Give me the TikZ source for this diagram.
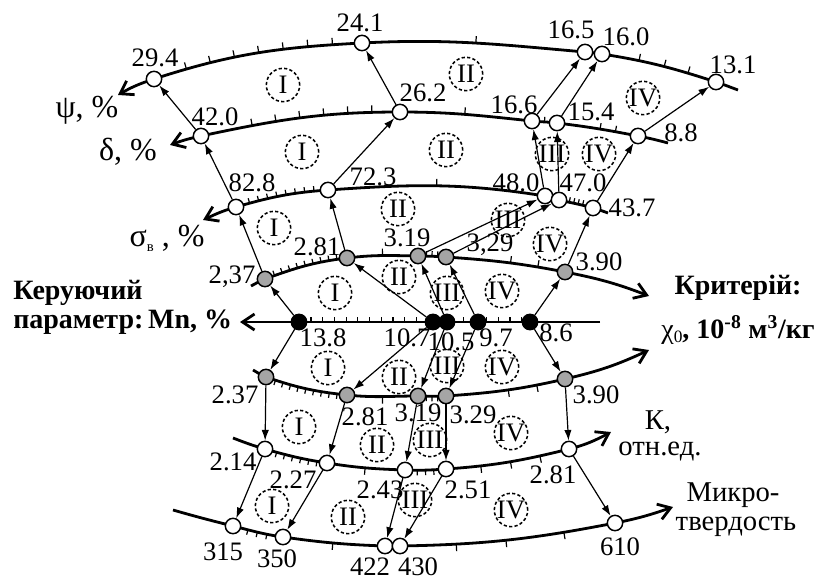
\documentclass[tikz,border=0pt]{standalone}
\usepackage{fontspec}
\setmainfont{Liberation Serif}
\usetikzlibrary{arrows.meta,decorations.markings}
\definecolor{ngray}{RGB}{165,165,165}
\begin{document}
\begin{tikzpicture}[x=0.75pt,y=0.75pt,
  axisln/.style={line width=2.1pt},
  tickln/.style={line width=0.9pt},
  conn/.style={line width=0.9pt,-{Latex[length=8pt,width=5.5pt]}},
  ptbase/.style={circle,draw,line width=1.1pt,minimum size=11.5pt,inner sep=0pt},
  wn/.style={ptbase,fill=white},
  gn/.style={ptbase,fill=ngray},
  bn/.style={ptbase,fill=black},
  zone/.style={circle,draw,dash pattern=on 2.4pt off 1.7pt,line width=1.15pt,minimum size=25pt,inner sep=0pt,font=\fontsize{20}{22}\selectfont},
  num/.style={inner sep=0pt,font=\fontsize{20}{22}\selectfont},
  lab/.style={inner sep=0pt,font=\fontsize{21.5}{24}\selectfont},
  glab/.style={inner sep=0pt,font=\fontsize{24}{26}\selectfont},
  blab/.style={inner sep=0pt,font=\fontsize{21}{24}\selectfont\bfseries},
  mk/.style 2 args={decoration={mark=at position #1 with {\draw[tickln] (0pt,0pt)--(0pt,#2);}}},
  mks/.style n args={4}{decoration={mark=between positions #1 and #2 step #3 with {\draw[tickln] (0pt,0pt)--(0pt,#4);}}},
]
\useasboundingbox (0,0) rectangle (816,-581);
% ---------- coordinates ----------
\coordinate (c1s) at (118,-95);  \coordinate (c1a) at (154,-79);  \coordinate (c1b) at (362,-43);
\coordinate (c1c) at (585,-52);  \coordinate (c1d) at (602,-54);  \coordinate (c1e) at (716,-82);
\coordinate (c1f) at (738,-90);
\coordinate (c2s) at (170,-145); \coordinate (c2a) at (201,-136); \coordinate (c2b) at (400,-112);
\coordinate (c2c) at (532,-121); \coordinate (c2d) at (557,-123); \coordinate (c2e) at (638,-136);
\coordinate (c2f) at (668,-143);
\coordinate (c3s) at (203,-220); \coordinate (c3a) at (236,-207); \coordinate (c3b) at (328,-190);
\coordinate (c3c) at (545,-196); \coordinate (c3d) at (559,-200); \coordinate (c3e) at (593,-208);
\coordinate (c3f) at (608,-213);
\coordinate (c4s) at (251,-286); \coordinate (c4a) at (265,-279); \coordinate (c4b) at (347,-258);
\coordinate (c4c) at (418,-256); \coordinate (c4d) at (446,-257); \coordinate (c4e) at (565,-272);
\coordinate (c4f) at (649,-296);
\coordinate (ax0) at (600,-322); \coordinate (ax1) at (240,-322);
\coordinate (cm1) at (299,-322); \coordinate (cm2) at (433,-322); \coordinate (cm3) at (447,-322);
\coordinate (cm4) at (478,-322); \coordinate (cm5) at (530,-322);
\coordinate (c5s) at (253,-370); \coordinate (c5a) at (266,-377); \coordinate (c5b) at (347,-395);
\coordinate (c5c) at (418,-396); \coordinate (c5d) at (446,-396); \coordinate (c5e) at (565,-379);
\coordinate (c5f) at (649,-350);
\coordinate (c6s) at (233,-438); \coordinate (c6a) at (265,-449); \coordinate (c6b) at (327,-463);
\coordinate (c6c) at (405,-470); \coordinate (c6d) at (446,-469); \coordinate (c6e) at (569,-449);
\coordinate (c6f) at (611,-432);
\coordinate (c7s) at (173,-510); \coordinate (c7a) at (233,-526); \coordinate (c7b) at (283,-537);
\coordinate (c7c) at (385,-546); \coordinate (c7d) at (400,-546); \coordinate (c7e) at (615,-523);
\coordinate (c7f) at (673,-507);
% ---------- curves ----------
\draw[axisln,{Straight Barb[length=9pt,width=12pt]}-] (c1s) to[out=30,in=198] (c1a) to[out=18,in=183] (c1b) to[out=3,in=175] (c1c) to[out=-5,in=171] (c1d) to[out=-9,in=162] (c1e) to[out=-18,in=160] (c1f);
\draw[axisln,{Straight Barb[length=9pt,width=12pt]}-] (c2s) to[out=20,in=192] (c2a) to[out=12,in=180] (c2b) to[out=0,in=174] (c2c) to[out=-6,in=173] (c2d) to[out=-7,in=169] (c2e) to[out=-11,in=165] (c2f);
\draw[axisln,{Straight Barb[length=9pt,width=12pt]}-] (c3s) to[out=25,in=196] (c3a) to[out=16,in=184] (c3b) to[out=4,in=171] (c3c) to[out=-9,in=167] (c3d) to[out=-13,in=164] (c3e) to[out=-16,in=160] (c3f);
\draw[axisln,-{Straight Barb[length=9pt,width=12pt]}] (c4s) to[out=27,in=200] (c4a) to[out=20,in=187] (c4b) to[out=7,in=179] (c4c) to[out=-1,in=176] (c4d) to[out=-4,in=169] (c4e) to[out=-11,in=159] (c4f);
\draw[axisln,-{Straight Barb[length=9pt,width=12pt]}] (ax0) -- (ax1);
\draw[axisln,-{Straight Barb[length=9pt,width=12pt]}] (c5s) to[out=-28,in=161] (c5a) to[out=-19,in=174] (c5b) to[out=-6,in=180] (c5c) to[out=0,in=184] (c5d) to[out=4,in=193] (c5e) to[out=13,in=205] (c5f);
\draw[axisln,-{Straight Barb[length=9pt,width=12pt]}] (c6s) to[out=-21,in=164] (c6a) to[out=-16,in=171] (c6b) to[out=-9,in=178] (c6c) to[out=-2,in=184] (c6d) to[out=4,in=194] (c6e) to[out=14,in=208] (c6f);
\draw[axisln,-{Straight Barb[length=9pt,width=12pt]}] (c7s) to[out=-16,in=166] (c7a) to[out=-14,in=172] (c7b) to[out=-8,in=178] (c7c) to[out=-2,in=181] (c7d) to[out=1,in=191] (c7e) to[out=11,in=199] (c7f);
% ---------- ticks ----------
\path[decoration=markings,mks={0.16}{0.87}{0.1167}{5.2pt},decorate] (c1a) to[out=18,in=183] (c1b);
\path[decoration=markings,mk={0.51}{5.2pt},decorate] (c1b) to[out=3,in=175] (c1c);
\path[decoration=markings,mk={0.32}{5.2pt},mk={0.54}{5.2pt},mk={0.75}{5.2pt},decorate] (c1d) to[out=-9,in=162] (c1e);
\path[decoration=markings,mks={0.26}{0.87}{0.12}{5.2pt},decorate] (c2a) to[out=12,in=180] (c2b);
\path[decoration=markings,mk={0.49}{5.2pt},decorate] (c2b) to[out=0,in=174] (c2c);
\path[decoration=markings,mk={0.5}{3.8pt},decorate] (c2c) to[out=-6,in=173] (c2d);
\path[decoration=markings,mk={0.53}{4.5pt},mk={0.72}{4.5pt},decorate] (c2d) to[out=-7,in=169] (c2e);
\path[decoration=markings,mks={0.15}{0.86}{0.1}{3.8pt},decorate] (c3a) to[out=16,in=184] (c3b);
\path[decoration=markings,mk={0.5}{5.2pt},decorate] (c3b) to[out=4,in=171] (c3c);
\path[decoration=markings,mks={0.3}{0.7}{0.13}{3.8pt},decorate] (c3d) to[out=-13,in=164] (c3e);
\path[decoration=markings,mks={0.12}{0.89}{0.095}{3.8pt},decorate] (c4a) to[out=20,in=187] (c4b);
\path[decoration=markings,mk={0.5}{5.2pt},decorate] (c4b) to[out=7,in=179] (c4c);
\path[decoration=markings,mks={0.3}{0.71}{0.2}{3.8pt},decorate] (c4c) to[out=-1,in=176] (c4d);
\path[decoration=markings,mk={0.54}{5.2pt},mk={0.77}{5.2pt},decorate] (c4d) to[out=-4,in=169] (c4e);
\foreach \x in {311,322.7,...,522} \draw[tickln] (\x,-322) -- (\x,-317);
\path[decoration=markings,mks={0.12}{0.89}{0.095}{-3.8pt},decorate] (c5a) to[out=-19,in=174] (c5b);
\path[decoration=markings,mk={0.5}{-5.2pt},decorate] (c5b) to[out=-6,in=180] (c5c);
\path[decoration=markings,mks={0.3}{0.71}{0.2}{-3.8pt},decorate] (c5c) to[out=0,in=184] (c5d);
\path[decoration=markings,mk={0.52}{-5.2pt},mk={0.76}{-5.2pt},decorate] (c5d) to[out=4,in=193] (c5e);
\path[decoration=markings,mks={0.19}{0.86}{0.13}{-3.8pt},decorate] (c6a) to[out=-16,in=171] (c6b);
\path[decoration=markings,mk={0.49}{-5.2pt},decorate] (c6b) to[out=-9,in=178] (c6c);
\path[decoration=markings,mks={0.3}{0.71}{0.2}{-3.8pt},decorate] (c6c) to[out=-2,in=184] (c6d);
\path[decoration=markings,mk={0.28}{-5.2pt},mk={0.52}{-5.2pt},mk={0.76}{-5.2pt},decorate] (c6d) to[out=4,in=194] (c6e);
\path[decoration=markings,mk={0.3}{-3.8pt},mk={0.49}{-3.8pt},mk={0.68}{-3.8pt},decorate] (c7a) to[out=-14,in=172] (c7b);
\path[decoration=markings,mk={0.49}{-5.2pt},decorate] (c7b) to[out=-8,in=178] (c7c);
\path[decoration=markings,mk={0.26}{-5.2pt},mk={0.49}{-5.2pt},mk={0.76}{-5.2pt},decorate] (c7d) to[out=1,in=191] (c7e);
% ---------- points ----------
\foreach \c in {a,b,c,d,e} {
  \node[wn] (p1\c) at (c1\c) {};
  \node[wn] (p2\c) at (c2\c) {};
  \node[wn] (p3\c) at (c3\c) {};
  \node[gn] (p4\c) at (c4\c) {};
  \node[gn] (p5\c) at (c5\c) {};
  \node[wn] (p6\c) at (c6\c) {};
  \node[wn] (p7\c) at (c7\c) {};
}
\foreach \i in {1,...,5} \node[bn] (m\i) at (cm\i) {};
% ---------- connectors ----------
\foreach \i/\c in {1/a,2/b,3/c,4/d,5/e} {
  \draw[conn] (m\i) -- (p4\c);
  \draw[conn] (m\i) -- (p5\c);
  \draw[conn] (p4\c) -- (p3\c);
  \draw[conn] (p3\c) -- (p2\c);
  \draw[conn] (p2\c) -- (p1\c);
  \draw[conn] (p5\c) -- (p6\c);
  \draw[conn] (p6\c) -- (p7\c);
}
% ---------- value labels ----------
\node[num] (l1a) at (155,-58) {29.4};
\node[num] (l1b) at (360,-23) {24.1};
\node[num] (l1c) at (571,-30) {16.5};
\node[num] (l1d) at (626,-37) {16.0};
\node[num] (l1e) at (733,-65) {13.1};
\node[num] (l2a) at (215,-117) {42.0};
\node[num] (l2b) at (423,-93) {26.2};
\node[num] (l2c) at (514,-105) {16.6};
\node[num] (l2d) at (591,-112) {15.4};
\node[num] (l2e) at (681,-133) {8.8};
\node[num] (l3a) at (252,-183) {82.8};
\node[num] (l3b) at (373,-177) {72.3};
\node[num] (l3c) at (516,-183) {48.0};
\node[num] (l3d) at (583,-183) {47.0};
\node[num] (l3e) at (632,-208) {43.7};
\node[num] (l4a) at (232,-277) {2,37};
\node[num] (l4b) at (317,-247) {2.81};
\node[num] (l4c) at (407,-238) {3.19};
\node[num] (l4d) at (490,-245) {3,29};
\node[num] (l4e) at (599,-262) {3.90};
\node[num] (lm1) at (323,-338) {13.8};
\node[num] (lm2) at (407,-338) {10.7};
\node[num] (lm3) at (451,-342) {10.5};
\node[num] (lm4) at (496,-338) {9.7};
\node[num] (lm5) at (556,-333) {8.6};
\node[num] (l5a) at (235,-395) {2.37};
\node[num] (l5b) at (365,-417) {2.81};
\node[num] (l5c) at (418,-413) {3.19};
\node[num] (l5d) at (473,-415) {3.29};
\node[num] (l5e) at (596,-395) {3.90};
\node[num] (l6a) at (233,-462) {2.14};
\node[num] (l6b) at (293,-480) {2.27};
\node[num] (l6c) at (380,-490) {2.43};
\node[num] (l6d) at (468,-490) {2.51};
\node[num] (l6e) at (553,-475) {2.81};
\node[num] (l7a) at (223,-552) {315};
\node[num] (l7b) at (277,-559) {350};
\node[num] (l7c) at (370,-567) {422};
\node[num] (l7d) at (418,-567) {430};
\node[num] (l7e) at (620,-547) {610};
% ---------- zones ----------
\node[zone] (z1a) at (283,-85) {I};
\node[zone] (z1b) at (466,-74) {II};
\node[zone] (z1d) at (643,-98) {IV};
\node[zone] (z2a) at (302,-152) {I};
\node[zone] (z2b) at (446,-150) {II};
\node[zone] (z2c) at (552,-154) {III};
\node[zone] (z2d) at (599,-154) {IV};
\node[zone] (z3a) at (274,-228) {I};
\node[zone] (z3b) at (398,-209) {II};
\node[zone] (z3c) at (508,-220) {III};
\node[zone] (z3d) at (550,-244) {IV};
\node[zone] (z4a) at (335,-293) {I};
\node[zone] (z4b) at (399,-277) {II};
\node[zone] (z4c) at (447,-293) {III};
\node[zone] (z4d) at (502,-291) {IV};
\node[zone] (z5a) at (328,-368) {I};
\node[zone] (z5b) at (399,-377) {II};
\node[zone] (z5c) at (447,-366) {III};
\node[zone] (z5d) at (502,-367) {IV};
\node[zone] (z6a) at (299,-427) {I};
\node[zone] (z6b) at (377,-445) {II};
\node[zone] (z6c) at (430,-440) {III};
\node[zone] (z6d) at (511,-433) {IV};
\node[zone] (z7a) at (272,-506) {I};
\node[zone] (z7b) at (348,-517) {II};
\node[zone] (z7c) at (415,-500) {III};
\node[zone] (z7d) at (511,-510) {IV};
% ---------- axis names ----------
\node[glab] (npsi) at (87,-110) {ψ, \%};
\node[glab] (ndelta) at (128,-152) {δ, \%};
\node[glab] (nsigma) at (167,-238) {σ\raisebox{-0.35ex}{\fontsize{11}{12}\selectfont в}\ , \%};
\node[blab,anchor=west] (nctrl1) at (13,-293) {Керуючий};
\node[blab,anchor=west] (nctrl2) at (13,-322) {параметр:\,Mn, \%};
\node[blab] (ncrit1) at (738,-288) {Критерій:};
\node[blab] (ncrit2) at (738,-330) {{\mdseries χ\raisebox{-0.3ex}{\fontsize{13}{14}\selectfont 0}}, 10\textsuperscript{-8} м\textsuperscript{3}/кг};
\node[lab] (nk1) at (658,-422) {К,};
\node[lab] (nk2) at (660,-452) {отн.ед.};
\node[lab] (nmh1) at (733,-495) {Микро-};
\node[lab] (nmh2) at (736,-527) {твердость};
\end{tikzpicture}
\end{document}
